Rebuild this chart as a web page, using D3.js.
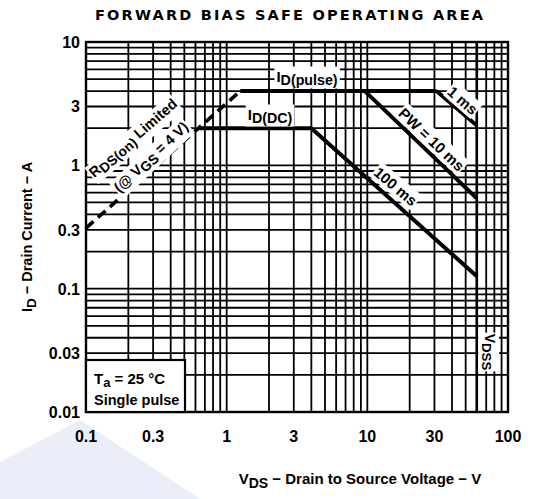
<!DOCTYPE html>
<html><head><meta charset="utf-8">
<script src="https://cdn.jsdelivr.net/npm/d3@7"></script>
<style>
body{margin:0;background:#fff;}
text{font-family:"Liberation Sans",Arial,sans-serif;font-weight:bold;fill:#000;}
</style></head>
<body><svg id="c" width="535" height="499"></svg>
<script>
// ---- data ----
const xTicks = [0.1, 0.3, 1, 3, 10, 30, 100];
const xTickLabels = ["0.1", "0.3", "1", "3", "10", "30", "100"];
const yTicks = [0.01, 0.03, 0.1, 0.3, 1, 3, 10];
const yTickLabels = ["0.01", "0.03", "0.1", "0.3", "1", "3", "10"];
const rdsLimit = [[0.1, 0.31], [1.25, 4]];
const idPulse = [[1.25, 4], [31, 4]];
const pw1ms = [[31, 4], [60, 2.1]];
const pw10ms = [[9.6, 4], [60, 0.54]];
const idDC100ms = [[0.64, 2], [4, 2], [60, 0.126]];
const vdss = 60;

const svg = d3.select("#c");
const x = d3.scaleLog().domain([0.1, 100]).range([86, 508]);
const y = d3.scaleLog().domain([0.01, 10]).range([412, 42]);

// watermark
svg.append("polygon").attr("points", "80,420 200,499 0,499 0,462").attr("fill", "#e9eef9");

// grid
const xs = [], ys = [];
[0.1, 1, 10].forEach(d => { for (let k = 1; k <= 9; k++) xs.push(k * d); });
xs.push(100);
[0.01, 0.1, 1].forEach(d => { for (let k = 1; k <= 9; k++) ys.push(k * d); });
ys.push(10);
const g = svg.append("g");
g.selectAll(".vx").data(xs).join("line")
  .attr("x1", d => x(d)).attr("x2", d => x(d)).attr("y1", y(0.01)).attr("y2", y(10))
  .attr("stroke", "#000").attr("stroke-width", 1.8);
g.selectAll(".hy").data(ys).join("line")
  .attr("y1", d => y(d)).attr("y2", d => y(d)).attr("x1", x(0.1)).attr("x2", x(100))
  .attr("stroke", "#000").attr("stroke-width", 1.8);
g.append("line").attr("x1", x(vdss)).attr("x2", x(vdss)).attr("y1", y(0.01)).attr("y2", y(10))
  .attr("stroke", "#000").attr("stroke-width", 2.6);

// frame
svg.append("rect").attr("x", x(0.1)).attr("y", y(10)).attr("width", x(100) - x(0.1)).attr("height", y(0.01) - y(10))
  .attr("fill", "none").attr("stroke", "#000").attr("stroke-width", 2.4);

// curves
const line = d3.line().x(d => x(d[0])).y(d => y(d[1]));
[idPulse, pw1ms, pw10ms, idDC100ms].forEach(s => {
  svg.append("path").attr("d", line(s)).attr("fill", "none").attr("stroke", "#000").attr("stroke-width", 4);
});
svg.append("path").attr("d", line(rdsLimit)).attr("fill", "none").attr("stroke", "#000")
  .attr("stroke-width", 3.6).attr("stroke-dasharray", "10,6");

// label helper with white background
function label(cx, cy, angle, parts, size, pad) {
  const gg = svg.append("g").attr("transform", `translate(${cx},${cy}) rotate(${angle})`);
  const bg = gg.append("rect").attr("fill", "#fff");
  const t = gg.append("text").attr("text-anchor", "middle").attr("font-size", size).attr("dominant-baseline", "central");
  parts.forEach(p => {
    const ts = t.append("tspan").text(p.t);
    if (p.sub) ts.attr("baseline-shift", "-25%").attr("font-size", size * 0.95);
  });
  const b = t.node().getBBox();
  bg.attr("x", b.x - pad).attr("y", b.y - 1).attr("width", b.width + 2 * pad).attr("height", b.height + 2);
  return gg;
}
label(307, 76, 0, [{t: "I"}, {t: "D(pulse)", sub: true}], 15, 2);
label(270, 114, 0, [{t: "I"}, {t: "D(DC)", sub: true}], 15, 2);
label(133, 138, -41, [{t: "R"}, {t: "DS(on)", sub: true}, {t: " Limited"}], 14.5, 1);
label(151, 157, -43, [{t: "(@ V"}, {t: "GS", sub: true}, {t: " = 4 V)"}], 14.5, 1);
label(432, 139, 43.5, [{t: "PW = 10 ms"}], 15, 1);
label(463, 100, 41, [{t: "1 ms"}], 15, 1);
label(396, 186, 40, [{t: "100 ms"}], 15, 1);
label(490, 352, 90, [{t: "V"}, {t: "DSS", sub: true}], 14, 1);

// Ta box
svg.append("rect").attr("x", x(0.1)).attr("y", 360).attr("width", 99).attr("height", y(0.01) - 360)
  .attr("fill", "#fff").attr("stroke", "#000").attr("stroke-width", 2.2);
const ta = svg.append("text").attr("x", 94).attr("y", 384).attr("font-size", 15);
ta.append("tspan").text("T");
ta.append("tspan").text("a").attr("baseline-shift", "-25%").attr("font-size", 13);
ta.append("tspan").text(" = 25 °C");
svg.append("text").attr("x", 94).attr("y", 405).attr("font-size", 14.5).text("Single pulse");

// tick labels
svg.selectAll(".xt").data(xTicks).join("text")
  .attr("x", d => x(d)).attr("y", 442).attr("text-anchor", "middle").attr("font-size", 16)
  .text((d, i) => xTickLabels[i]);
svg.selectAll(".yt").data(yTicks).join("text")
  .attr("x", 80).attr("y", d => y(d) + 6).attr("text-anchor", "end").attr("font-size", 16)
  .text((d, i) => yTickLabels[i]);

// title
svg.append("text").attr("x", 95).attr("y", 20).attr("font-size", 14.5)
  .style("font-family", "'DejaVu Sans', sans-serif")
  .attr("textLength", 388).attr("lengthAdjust", "spacing").text("FORWARD BIAS SAFE OPERATING AREA");

// axis titles
const xl = svg.append("text").attr("x", 360).attr("y", 484).attr("text-anchor", "middle").attr("font-size", 15);
xl.append("tspan").text("V");
xl.append("tspan").text("DS").attr("baseline-shift", "-25%").attr("font-size", 14);
xl.append("tspan").text(" − Drain to Source Voltage − V");
const yl = svg.append("text").attr("transform", "translate(32,237) rotate(-90)").attr("text-anchor", "middle").attr("font-size", 14.5);
yl.append("tspan").text("I");
yl.append("tspan").text("D").attr("baseline-shift", "-25%").attr("font-size", 13.5);
yl.append("tspan").text(" − Drain Current − A");
</script></body></html>
